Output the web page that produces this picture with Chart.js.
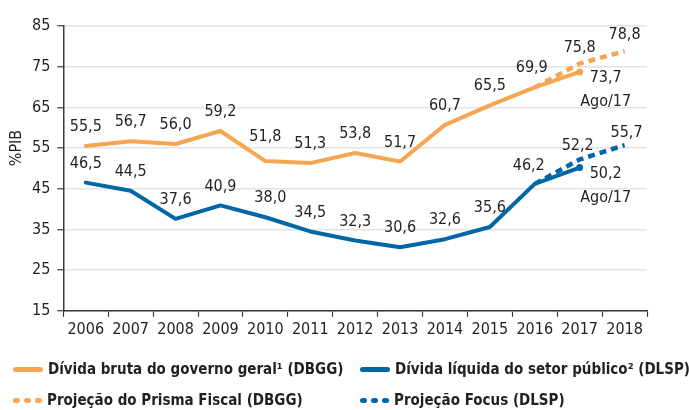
<!DOCTYPE html>
<html>
<head>
<meta charset="utf-8">
<script src="https://cdn.jsdelivr.net/npm/chart.js@4/dist/chart.umd.min.js"></script>
<style>
  body { margin: 0; background: #fff; }
  #wrap { position: relative; width: 689px; height: 410px; }
  .item {
    position: absolute; display: flex; align-items: center; height: 20px;
    font: bold 15px 'DejaVu Sans Condensed', 'Liberation Sans Narrow', sans-serif;
    color: #231f20; white-space: nowrap;
  }
  .solid { width: 30px; height: 5px; border-radius: 3px; margin-right: 5px; }
  .dots { display: flex; gap: 4px; margin-right: 5px; }
  .dots span { width: 7px; height: 5px; border-radius: 2.5px; }
</style>
</head>
<body>
<div id="wrap">
  <canvas id="chart" width="689" height="410"></canvas>
  <div class="item" style="left:13px; top:359px;"><span class="solid" style="background:#f6a552"></span>Dívida bruta do governo geral¹ (DBGG)</div>
  <div class="item" style="left:360px; top:359px;"><span class="solid" style="background:#0067a6"></span>Dívida líquida do setor público² (DLSP)</div>
  <div class="item" style="left:13px; top:390px;"><span class="dots"><span style="background:#f6a552"></span><span style="background:#f6a552"></span><span style="background:#f6a552"></span></span>Projeção do Prisma Fiscal (DBGG)</div>
  <div class="item" style="left:360px; top:390px;"><span class="dots"><span style="background:#0067a6"></span><span style="background:#0067a6"></span><span style="background:#0067a6"></span></span>Projeção Focus (DLSP)</div>
</div>
<script>
// dados (% do PIB)
const years = ['2006', '2007', '2008', '2009', '2010', '2011', '2012', '2013', '2014', '2015', '2016', '2017', '2018'];
const dbgg = [55.5, 56.7, 56.0, 59.2, 51.8, 51.3, 53.8, 51.7, 60.7, 65.5, 69.9, 73.7, null];
const prisma = [null, null, null, null, null, null, null, null, null, null, 69.9, 75.8, 78.8];
const dlsp = [46.5, 44.5, 37.6, 40.9, 38.0, 34.5, 32.3, 30.6, 32.6, 35.6, 46.2, 50.2, null];
const focus = [null, null, null, null, null, null, null, null, null, null, 46.2, 52.2, 55.7];
const lastObsNote = 'Ago/17';
const yTicks = [15, 25, 35, 45, 55, 65, 75, 85];

const ORANGE = '#f6a552';
const BLUE = '#0067a6';
const TEXT = '#231f20';
const AXIS = '#3a3a3a';
const FONT = "'DejaVu Sans Condensed', 'Liberation Sans Narrow', sans-serif";

const fmt = v => v.toFixed(1).replace('.', ',');

// rótulos de valor acima dos pontos; o último observado vai à direita com a nota
const valueLabels = {
    id: 'valueLabels',
    afterDatasetsDraw(chart) {
        const ctx = chart.ctx;
        ctx.save();
        ctx.font = '16px ' + FONT;
        ctx.fillStyle = TEXT;
        ctx.textAlign = 'center';
        ctx.textBaseline = 'middle';
        chart.data.datasets.forEach((ds, i) => {
            const meta = chart.getDatasetMeta(i);
            const skip = ds.labelSkip || [];
            const offsets = ds.labelOffsets || {};
            ds.data.forEach((v, j) => {
                if (v == null || skip.includes(j)) return;
                const pt = meta.data[j];
                if (j === ds.noteIndex) {
                    ctx.fillText(fmt(v), pt.x + 26, pt.y + 6);
                    ctx.fillText(lastObsNote, pt.x + 26, pt.y + 30);
                    return;
                }
                const [dx, dy] = offsets[j] || [0, -19];
                ctx.fillText(fmt(v), pt.x + dx, pt.y + dy);
            });
        });
        ctx.restore();
    }
};

const yTitle = {
    id: 'yTitle',
    afterDraw(chart) {
        const ctx = chart.ctx;
        const y = chart.scales.y.getPixelForValue(55);
        ctx.save();
        ctx.translate(17, y);
        ctx.rotate(-Math.PI / 2);
        ctx.font = '16px ' + FONT;
        ctx.fillStyle = TEXT;
        ctx.textAlign = 'center';
        ctx.textBaseline = 'middle';
        ctx.fillText('%PIB', 0, 0);
        ctx.restore();
    }
};

const lastPointRadius = (last) => ctx => ctx.dataIndex === last ? 3.5 : 0;

new Chart(document.getElementById('chart'), {
    type: 'line',
    data: {
        labels: years,
        datasets: [
            {
                data: prisma, borderColor: ORANGE, borderWidth: 4.5, borderDash: [7, 5], borderCapStyle: 'butt',
                pointRadius: 0, labelSkip: [10], labelOffsets: { 11: [0, -16], 12: [0, -16] }
            },
            {
                data: focus, borderColor: BLUE, borderWidth: 4.5, borderDash: [7, 5], borderCapStyle: 'butt',
                pointRadius: 0, labelSkip: [10], labelOffsets: { 11: [-2, -14], 12: [2, -12] }
            },
            {
                data: dbgg, borderColor: ORANGE, backgroundColor: ORANGE, borderWidth: 4,
                pointRadius: lastPointRadius(11), pointBorderWidth: 0, noteIndex: 11,
                labelOffsets: { 4: [0, -24], 10: [-3, -20] }
            },
            {
                data: dlsp, borderColor: BLUE, backgroundColor: BLUE, borderWidth: 4,
                pointRadius: lastPointRadius(11), pointBorderWidth: 0, noteIndex: 11,
                labelOffsets: { 4: [5, -19], 10: [-6, -18] }
            }
        ]
    },
    options: {
        responsive: false,
        animation: false,
        layout: { padding: { left: 25, right: 42, top: 26, bottom: 68 } },
        elements: { line: { tension: 0, borderCapStyle: 'round', borderJoinStyle: 'round' } },
        plugins: { legend: { display: false }, tooltip: { enabled: false } },
        scales: {
            x: {
                offset: true,
                grid: { offset: true, drawOnChartArea: false, tickLength: 6, tickColor: AXIS, tickWidth: 1.2 },
                border: { color: AXIS, width: 1.5 },
                ticks: { color: TEXT, font: { family: FONT, size: 16 }, padding: 3, maxRotation: 0, autoSkip: false }
            },
            y: {
                min: yTicks[0],
                max: yTicks[yTicks.length - 1],
                afterBuildTicks: axis => { axis.ticks = yTicks.map(v => ({ value: v })); },
                grid: { color: '#e3e3e3', lineWidth: 1.5, tickColor: AXIS, tickLength: 6, tickWidth: 1.2 },
                border: { color: AXIS, width: 1.5 },
                ticks: { color: TEXT, font: { family: FONT, size: 16 }, padding: 7 }
            }
        }
    },
    plugins: [valueLabels, yTitle]
});
</script>
</body>
</html>
